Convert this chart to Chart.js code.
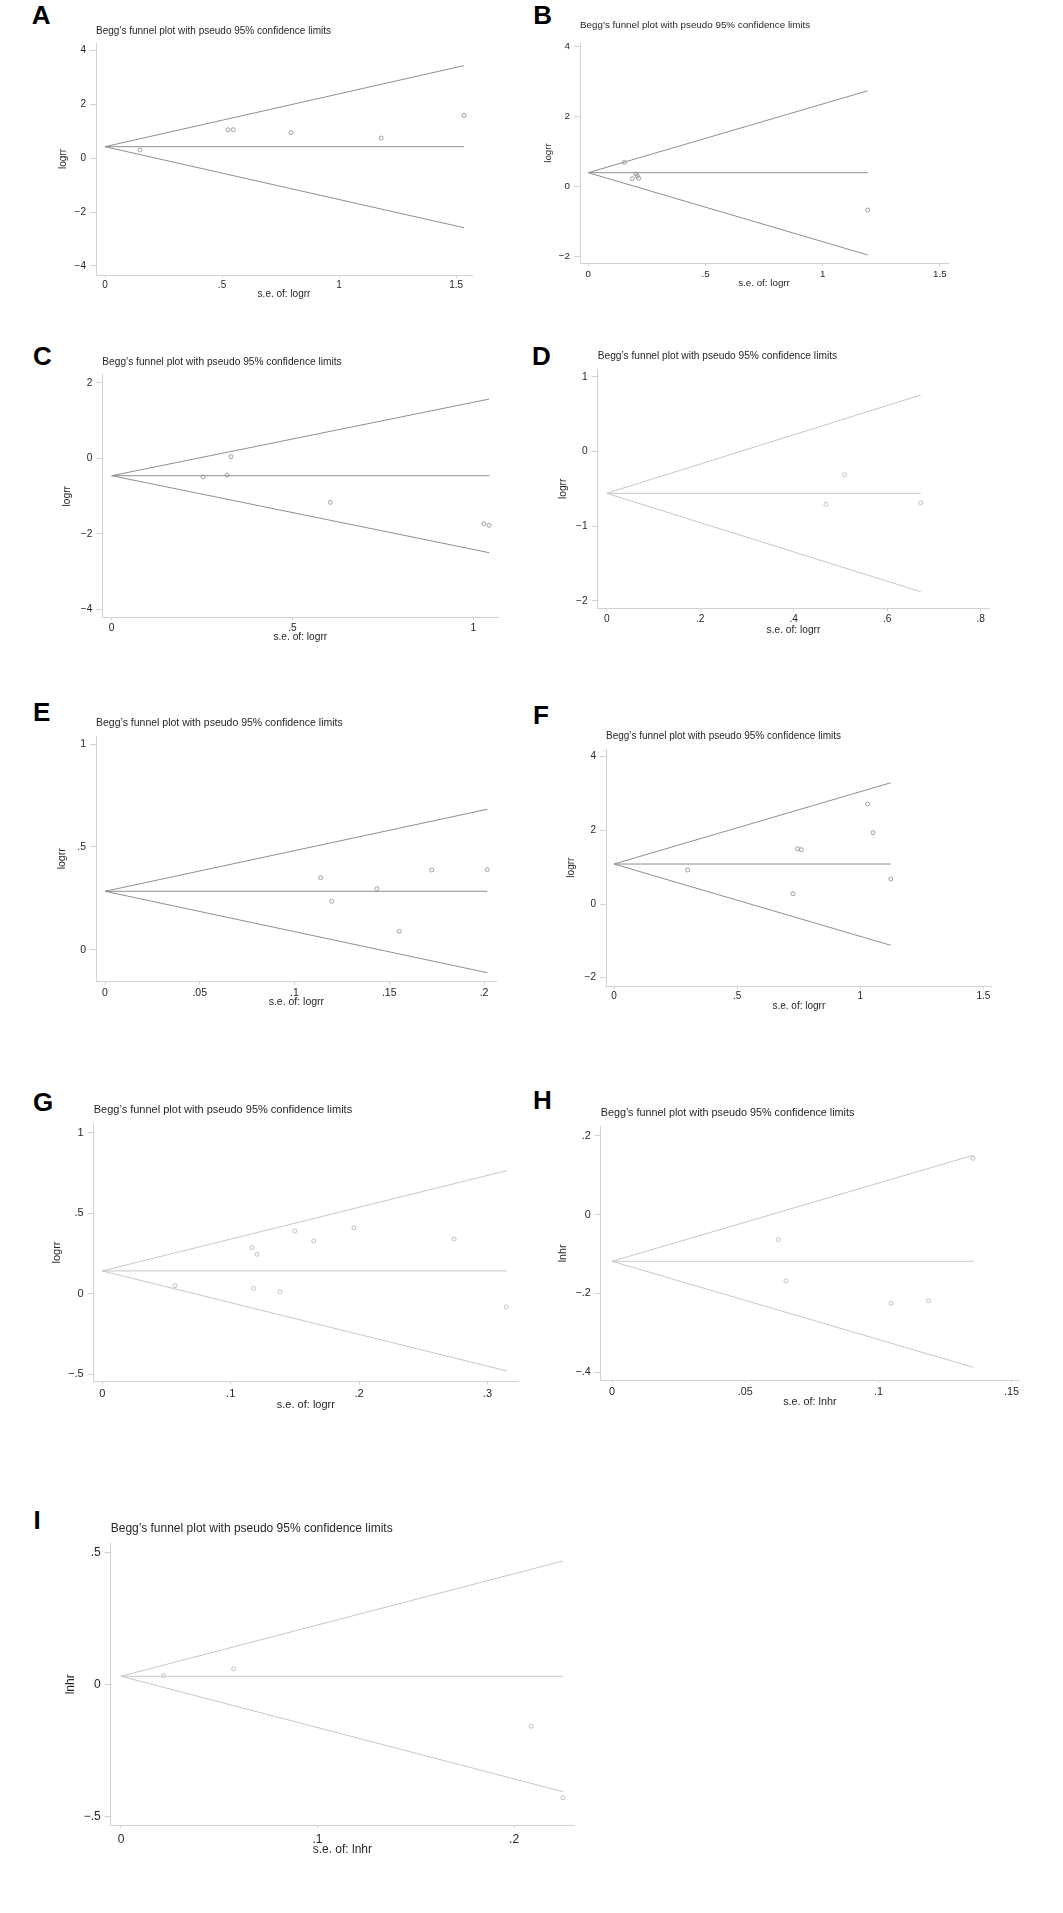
<!DOCTYPE html>
<html>
<head>
<meta charset="utf-8">
<script src="https://cdn.jsdelivr.net/npm/chart.js@4.4.1/dist/chart.umd.min.js"></script>
<style>
  body { margin: 0; background: #fff; }
  #page { position: relative; width: 1063px; height: 1913px; overflow: hidden; background: #fff; }
  .tag { position: absolute; font: bold 26px/1 "Liberation Sans", Arial, sans-serif; color: #000; }
  canvas { position: absolute; }
</style>
</head>
<body>
<div id="page"></div>
<script>
// ===== DATA =====
// se = s.e. of the estimate (x), est = logrr / lnhr (y)
// funnel = pooled estimate and the ends of the pseudo 95% limits at the largest s.e.

// ---- A ----
const seA     = [0.150, 0.525, 0.548, 0.795, 1.180, 1.534];
const estA    = [0.305, 1.060, 1.060, 0.950, 0.750, 1.590];
const funnelA = { pooled: 0.43, seMax: 1.534, upper: 3.44, lower: -2.58 };
const xTicksA = [0, 0.5, 1, 1.5];
const yTicksA = [4, 2, 0, -2, -4];
const xRangeA = [-0.0385, 1.568];
const yRangeA = [-4.335, 4.28];

// ---- B ----
const seB     = [0.154, 0.188, 0.203, 0.209, 0.215, 1.192];
const estB    = [0.677, 0.209, 0.343, 0.286, 0.220, -0.686];
const funnelB = { pooled: 0.38, seMax: 1.192, upper: 2.72, lower: -1.97 };
const xTicksB = [0, 0.5, 1, 1.5];
const yTicksB = [4, 2, 0, -2];
const xRangeB = [-0.0354, 1.5346];
const yRangeB = [-2.2, 4.086];

// ---- C ----
const seC     = [0.2525, 0.319, 0.330, 0.6045, 1.0288, 1.0434];
const estC    = [-0.498, -0.445, 0.040, -1.168, -1.734, -1.777];
const funnelC = { pooled: -0.463, seMax: 1.044, upper: 1.567, lower: -2.502 };
const xTicksC = [0, 0.5, 1];
const yTicksC = [2, 0, -2, -4];
const xRangeC = [-0.026, 1.069];
const yRangeC = [-4.218, 2.204];

// ---- D ----
const seD     = [0.469, 0.509, 0.6717];
const estD    = [-0.708, -0.312, -0.687];
const funnelD = { pooled: -0.561, seMax: 0.6717, upper: 0.755, lower: -1.879 };
const xTicksD = [0, 0.2, 0.4, 0.6, 0.8];
const yTicksD = [1, 0, -1, -2];
const xRangeD = [-0.0193, 0.8184];
const yRangeD = [-2.101, 1.10];

// ---- E ----
const seE     = [0.1138, 0.1196, 0.1435, 0.1553, 0.1724, 0.2017];
const estE    = [0.350, 0.235, 0.2965, 0.0895, 0.3875, 0.389];
const funnelE = { pooled: 0.284, seMax: 0.2017, upper: 0.6826, lower: -0.1118 };
const xTicksE = [0, 0.05, 0.1, 0.15, 0.2];
const yTicksE = [1, 0.5, 0];
const xRangeE = [-0.00475, 0.2067];
const yRangeE = [-0.1556, 1.039];

// ---- F ----
const seF     = [0.299, 0.727, 0.746, 0.761, 1.030, 1.052, 1.124];
const estF    = [0.923, 0.280, 1.500, 1.474, 2.715, 1.936, 0.679];
const funnelF = { pooled: 1.086, seMax: 1.124, upper: 3.293, lower: -1.121 };
const xTicksF = [0, 0.5, 1, 1.5];
const yTicksF = [4, 2, 0, -2];
const xRangeF = [-0.0325, 1.534];
const yRangeF = [-2.226, 4.201];

// ---- G ----
const seG     = [0.0566, 0.1168, 0.1205, 0.1179, 0.1384, 0.150, 0.1646, 0.196, 0.274, 0.3146];
const estG    = [0.050, 0.286, 0.245, 0.034, 0.013, 0.390, 0.328, 0.410, 0.340, -0.082];
const funnelG = { pooled: 0.1416, seMax: 0.315, upper: 0.764, lower: -0.479 };
const xTicksG = [0, 0.1, 0.2, 0.3];
const yTicksG = [1, 0.5, 0, -0.5];
const xRangeG = [-0.0067, 0.3238];
const yRangeG = [-0.546, 1.058];

// ---- H ----
const seH     = [0.0624, 0.0653, 0.1048, 0.1188, 0.1355];
const estH    = [-0.0637, -0.1684, -0.225, -0.2184, 0.1428];
const funnelH = { pooled: -0.1184, seMax: 0.1356, upper: 0.1504, lower: -0.3873 };
const xTicksH = [0, 0.05, 0.1, 0.15];
const yTicksH = [0.2, 0, -0.2, -0.4];
const xRangeH = [-0.00428, 0.1528];
const yRangeH = [-0.4195, 0.2229];

// ---- I ----
const seI     = [0.0216, 0.0573, 0.2088, 0.2249];
const estI    = [0.034, 0.0606, -0.1576, -0.428];
const funnelI = { pooled: 0.032, seMax: 0.2249, upper: 0.4686, lower: -0.4053 };
const xTicksI = [0, 0.1, 0.2];
const yTicksI = [0.5, 0, -0.5];
const xRangeI = [-0.00523, 0.2305];
const yRangeI = [-0.5326, 0.5356];

const TITLE  = 'Begg\u2019s funnel plot with pseudo 95% confidence limits';
const FONT   = '"Liberation Sans", Arial, Helvetica, sans-serif';
const AXIS   = '#d2d2d2';
const TEXT   = '#262626';
const DARK   = { line: '#8e8e8e', dot: '#8a8a8a' };
const LIGHT  = { line: '#c6c6c6', dot: '#b2b2b2' };

// ===== LAYOUT (pixel boxes of each panel on the page) =====
const PANELS = [
  { tag: 'A', se: seA, est: estA, f: funnelA, xt: xTicksA, yt: yTicksA, xr: xRangeA, yr: yRangeA, v: 'logrr', tone: DARK,
    g: { tagX: 31.7, tagY: 5, titleY: 31, fs: 10, axL: 96, axT: 43, axR: 472, axB: 275, yTitleX: 63, xTitleY: 294, xPad: 1 } },
  { tag: 'B', se: seB, est: estB, f: funnelB, xt: xTicksB, yt: yTicksB, xr: xRangeB, yr: yRangeB, v: 'logrr', tone: DARK,
    g: { tagX: 533.3, tagY: 5, titleY: 25.7, fs: 9.8, axL: 580, axT: 43, axR: 948, axB: 263, yTitleX: 548, xTitleY: 283, xPad: 2.5 } },
  { tag: 'C', se: seC, est: estC, f: funnelC, xt: xTicksC, yt: yTicksC, xr: xRangeC, yr: yRangeC, v: 'logrr', tone: DARK,
    g: { tagX: 33, tagY: 346.7, titleY: 362.3, fs: 10.2, axL: 102.3, axT: 375, axR: 498.3, axB: 617.5, yTitleX: 67, xTitleY: 637, xPad: 2 } },
  { tag: 'D', se: seD, est: estD, f: funnelD, xt: xTicksD, yt: yTicksD, xr: xRangeD, yr: yRangeD, v: 'logrr', tone: LIGHT,
    g: { tagX: 532, tagY: 346.7, titleY: 355.7, fs: 10.2, axL: 597.7, axT: 369.3, axR: 989.3, axB: 608.3, yTitleX: 563.3, xTitleY: 630, xPad: 2 } },
  { tag: 'E', se: seE, est: estE, f: funnelE, xt: xTicksE, yt: yTicksE, xr: xRangeE, yr: yRangeE, v: 'logrr', tone: DARK,
    g: { tagX: 33, tagY: 702.7, titleY: 722.7, fs: 10.5, axL: 96, axT: 736, axR: 496.7, axB: 981.7, yTitleX: 61.7, xTitleY: 1002.3, xPad: 2 } },
  { tag: 'F', se: seF, est: estF, f: funnelF, xt: xTicksF, yt: yTicksF, xr: xRangeF, yr: yRangeF, v: 'logrr', tone: DARK,
    g: { tagX: 533, tagY: 705, titleY: 736, fs: 10, axL: 606, axT: 749.3, axR: 991.7, axB: 986, yTitleX: 571.7, xTitleY: 1006, xPad: 1.5 } },
  { tag: 'G', se: seG, est: estG, f: funnelG, xt: xTicksG, yt: yTicksG, xr: xRangeG, yr: yRangeG, v: 'logrr', tone: LIGHT,
    g: { tagX: 33, tagY: 1092.7, titleY: 1110, fs: 11, axL: 93.7, axT: 1123.3, axR: 518, axB: 1381.7, yTitleX: 56.7, xTitleY: 1405.3, xPad: 3 } },
  { tag: 'H', se: seH, est: estH, f: funnelH, xt: xTicksH, yt: yTicksH, xr: xRangeH, yr: yRangeH, v: 'lnhr', tone: LIGHT,
    g: { tagX: 533, tagY: 1090, titleY: 1113.3, fs: 10.8, axL: 600.7, axT: 1126.7, axR: 1019, axB: 1380, yTitleX: 563.3, xTitleY: 1402, xPad: 2.5 } },
  { tag: 'I', se: seI, est: estI, f: funnelI, xt: xTicksI, yt: yTicksI, xr: xRangeI, yr: yRangeI, v: 'lnhr', tone: LIGHT,
    g: { tagX: 33.5, tagY: 1510, titleY: 1528.3, fs: 12, axL: 110.7, axT: 1543.3, axR: 574, axB: 1825.3, yTitleX: 70.6, xTitleY: 1850, xPad: 4 } },
];

// Stata style tick labels: ".5", "−2"
function stataTick(v) {
  const a = Math.abs(Math.round(v * 1000) / 1000);
  return (v < 0 ? '\u2212' : '') + String(a).replace(/^0(?=\.)/, '');
}

function segment(x0, y0, x1, y1, color) {
  return {
    data: [{ x: x0, y: y0 }, { x: x1, y: y1 }],
    showLine: true, borderColor: color, borderWidth: 1, pointRadius: 0, fill: false,
  };
}

function buildPanel(p) {
  const page = document.getElementById('page');
  const g = p.g, fs = g.fs, half = 0.6 * fs;

  const tag = document.createElement('div');
  tag.className = 'tag';
  tag.textContent = p.tag;
  tag.style.left = g.tagX + 'px';
  tag.style.top = (g.tagY - 3.4) + 'px';
  page.appendChild(tag);

  // canvas box so that the chart area lands on the measured axes
  const left   = Math.floor(g.yTitleX - half - 2);
  const top    = Math.floor(g.titleY - half - 3);
  const width  = Math.ceil(g.axR - left + 14);
  const height = Math.ceil(g.xTitleY + half + 4 - top);
  const yW     = g.axL - left;
  const xH     = g.xTitleY - g.axB + half;
  const padT   = g.titleY - half - top;
  const padR   = width - (g.axR - left);
  const padB   = height - (g.axB - top) - xH;

  const canvas = document.createElement('canvas');
  canvas.width = width;
  canvas.height = height;
  canvas.style.left = left + 'px';
  canvas.style.top = top + 'px';
  canvas.style.width = width + 'px';
  canvas.style.height = height + 'px';
  page.appendChild(canvas);

  const font = { family: FONT, size: fs };
  const f = p.f;

  new Chart(canvas, {
    type: 'scatter',
    data: {
      datasets: [
        segment(0, f.pooled, f.seMax, f.upper,  p.tone.line),
        segment(0, f.pooled, f.seMax, f.lower,  p.tone.line),
        segment(0, f.pooled, f.seMax, f.pooled, p.tone.line),
        {
          data: p.se.map((s, i) => ({ x: s, y: p.est[i] })),
          pointStyle: 'circle',
          pointRadius: 2,
          borderWidth: 0.8,
          borderColor: p.tone.dot,
          backgroundColor: 'rgba(0,0,0,0)',
        },
      ],
    },
    options: {
      responsive: false,
      animation: false,
      events: [],
      layout: { padding: { left: 0, top: padT, right: padR, bottom: padB } },
      plugins: {
        legend: { display: false },
        tooltip: { enabled: false },
        title: {
          display: true, text: TITLE, align: 'start', fullSize: false, color: TEXT,
          font: { family: FONT, size: fs, weight: 'normal' },
          padding: { top: 0, bottom: g.axT - g.titleY - half },
        },
      },
      scales: {
        x: {
          type: 'linear', position: 'bottom',
          min: p.xr[0], max: p.xr[1],
          afterBuildTicks: s => { s.ticks = p.xt.map(v => ({ value: v })); },
          afterFit: s => { s.height = xH; },
          ticks: { callback: v => stataTick(v), color: TEXT, font, padding: g.xPad, maxRotation: 0, autoSkip: false },
          grid: { drawOnChartArea: false, tickLength: 3, color: AXIS },
          border: { display: true, color: AXIS, width: 1 },
          title: { display: true, text: 's.e. of: ' + p.v, color: TEXT, font, padding: 0 },
        },
        y: {
          type: 'linear', position: 'left',
          min: p.yr[0], max: p.yr[1],
          afterBuildTicks: s => { s.ticks = p.yt.map(v => ({ value: v })); },
          afterFit: s => { s.width = yW; },
          ticks: { callback: v => stataTick(v), color: TEXT, font, padding: 4, autoSkip: false },
          grid: { drawOnChartArea: false, tickLength: 6, color: AXIS },
          border: { display: true, color: AXIS, width: 1 },
          title: { display: true, text: p.v, color: TEXT, font, padding: { top: g.yTitleX - left - half, bottom: 0 } },
        },
      },
    },
  });
}

PANELS.forEach(buildPanel);
</script>
</body>
</html>
